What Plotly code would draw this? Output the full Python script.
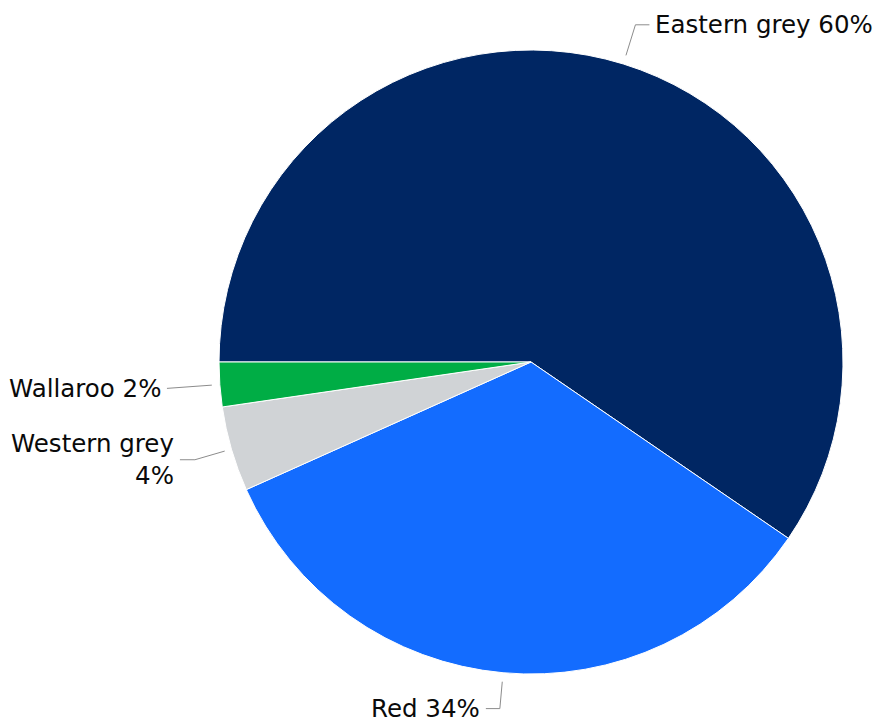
import math
import plotly.graph_objects as go

# ---- data ----
species = ["Eastern grey", "Red", "Western grey", "Wallaroo"]
shares = [59.5, 33.7, 4.4, 2.3]
colors = ["#002663", "#136cff", "#d0d3d6", "#00ad45"]
label_texts = ["Eastern grey {}%", "Red {}%", "Western grey<br>{}%", "Wallaroo {}%"]

# ---- layout geometry (styling only) ----
W_FIG, H_FIG = 873, 724
ML, MR, MT, MB = 219, 30, 50, 50
PW, PH = W_FIG - ML - MR, H_FIG - MT - MB
R = min(PW, PH) / 2
CX, CY = ML + PW / 2, MT + PH / 2
ROTATION = 270
# leader styles per label: (start offset, elbow offset, horizontal length)
leader = [(9, 41, 14), (9, 36, 14), (7, 38, 15), (8, 53, 0)]
FONT = dict(family="DejaVu Sans", size=24.5, color="#0a0a0a")


def to_paper(px, py):
    return (px - ML) / PW, 1 - (py - MT) / PH


fig = go.Figure(go.Pie(
    labels=species, values=shares, sort=False, direction="clockwise",
    rotation=ROTATION, marker=dict(colors=colors, line=dict(color="white", width=1)),
    textinfo="none", hoverinfo="label+percent", showlegend=False,
))

total = sum(shares)
cum = 0.0
shapes, annotations = [], []
for i, v in enumerate(shares):
    mid = ROTATION + (cum + v / 2) / total * 360
    cum += v
    a = math.radians(mid)
    vx, vy = math.sin(a), -math.cos(a)
    d0, d1, h = leader[i]
    p0 = (CX + (R + d0) * vx, CY + (R + d0) * vy)
    p1 = (CX + (R + d1) * vx, CY + (R + d1) * vy)
    side = 1 if vx >= 0 else -1
    p2 = (p1[0] + side * h, p1[1])
    pts = [to_paper(*p) for p in (p0, p1, p2)]
    path = "M {},{} L {},{} L {},{}".format(pts[0][0], pts[0][1], pts[1][0], pts[1][1], pts[2][0], pts[2][1])
    shapes.append(dict(type="path", xref="paper", yref="paper", path=path,
                       line=dict(color="#8c8c8c", width=1)))
    tx, ty = to_paper(p2[0] + side * 4, p2[1])
    pct = round(v / total * 100)
    annotations.append(dict(
        x=tx, y=ty, xref="paper", yref="paper", showarrow=False,
        text=label_texts[i].format(pct), xanchor="left" if side > 0 else "right",
        yanchor="middle", align="left" if side > 0 else "right", font=FONT,
    ))

fig.update_layout(
    width=W_FIG, height=H_FIG, autosize=False,
    margin=dict(l=ML, r=MR, t=MT, b=MB),
    paper_bgcolor="white", plot_bgcolor="white",
    shapes=shapes, annotations=annotations,
)

fig.write_html("out.html")
